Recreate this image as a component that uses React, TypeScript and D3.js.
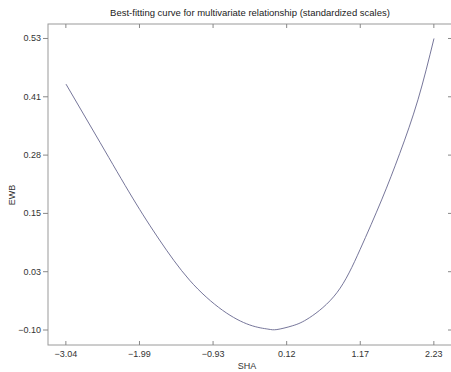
import React from 'react'
import * as d3 from 'd3'

// curve
const sha = [-3.04, -2.55, -2.085, -1.7, -1.27, -0.8, -0.41, -0.15, -0.02, 0.2, 0.45, 0.84, 1.17, 1.48, 1.74, 2.0, 2.23]
const ewb = [0.435, 0.308, 0.188, 0.097, 0.01, -0.055, -0.087, -0.096, -0.097, -0.089, -0.071, -0.017, 0.076, 0.184, 0.285, 0.401, 0.534]

const xTicks = [-3.042, -1.988, -0.934, 0.12, 1.174, 2.228]
const yTicks = [-0.098, 0.0284, 0.1548, 0.2812, 0.4076, 0.534]

const TITLE = 'Best-fitting curve for multivariate relationship (standardized scales)'
const FONT = '"Liberation Sans", Arial, sans-serif'

export default function App() {
  const width = 451
  const height = 372
  const box = { left: 48, right: 452, top: 24, bottom: 345 }

  const x = d3.scaleLinear().domain([-3.298, 2.488]).range([box.left, box.right])
  const y = d3.scaleLinear().domain([-0.1305, 0.5654]).range([box.bottom, box.top])
  const fmt = d3.format('.2f')

  const line = d3.line<number>()
    .x((_, i) => x(sha[i]))
    .y(d => y(d))
    .curve(d3.curveNatural)

  return (
    <svg width={width} height={height}
      style={{ position: 'absolute', left: 0, top: 0, background: 'white', fontFamily: FONT }}>
      <text x={250} y={16} textAnchor="middle" fontSize={9.5} fill="#222">{TITLE}</text>

      <rect x={box.left} y={box.top} width={box.right - box.left} height={box.bottom - box.top}
        fill="none" stroke="#9a9a9a" strokeWidth={1} />

      {xTicks.map(t => (
        <g key={t}>
          <line x1={x(t)} x2={x(t)} y1={box.bottom} y2={box.bottom - 4} stroke="#888" />
          <line x1={x(t)} x2={x(t)} y1={box.top} y2={box.top + 4} stroke="#888" />
          <text x={x(t)} y={357} textAnchor="middle" fontSize={9} fill="#333">{fmt(t)}</text>
        </g>
      ))}

      {yTicks.map(t => (
        <g key={t}>
          <line x1={box.left - 5} x2={box.left} y1={y(t)} y2={y(t)} stroke="#888" />
          <line x1={box.right - 4} x2={box.right} y1={y(t)} y2={y(t)} stroke="#888" />
          <text x={41} y={y(t) + 3} textAnchor="end" fontSize={9} fill="#333">{fmt(t)}</text>
        </g>
      ))}

      <text x={247} y={369} textAnchor="middle" fontSize={9} fill="#333">SHA</text>
      <text transform={`translate(15,195) rotate(-90)`} textAnchor="middle" fontSize={9} fill="#333">EWB</text>

      <path d={line(ewb) || ''} fill="none" stroke="#66668f" strokeWidth={0.9} />
    </svg>
  )
}
